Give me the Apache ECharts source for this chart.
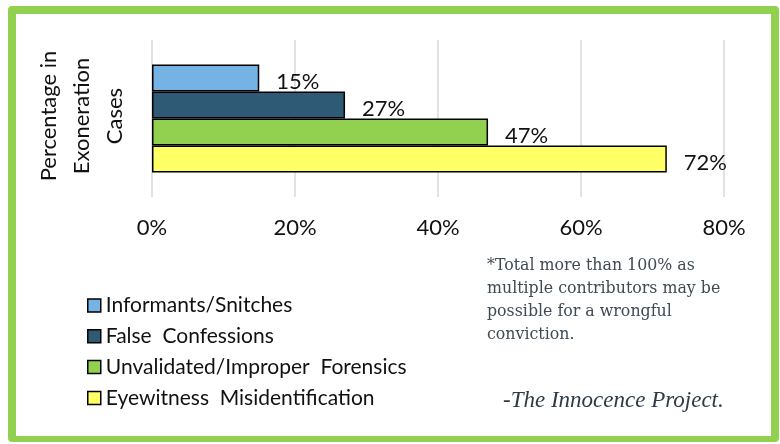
<!DOCTYPE html>
<html>
<head>
<meta charset="utf-8">
<script src="https://cdn.jsdelivr.net/npm/echarts@6/dist/echarts.min.js"></script>
<style>
html,body{margin:0;padding:0;background:#fff;}
#frame{position:absolute;left:8px;top:6px;width:755px;height:422px;border:8px solid #92d050;border-bottom-width:6px;border-radius:4px;background:#fff;}
#chart{position:absolute;left:0;top:0;width:780px;height:444px;}
</style>
</head>
<body>
<div id="frame"></div>
<div id="chart"></div>
<script>
const categories = ['Percentage in Exoneration Cases'];
const seriesNames = ['Informants/Snitches', 'False  Confessions', 'Unvalidated/Improper  Forensics', 'Eyewitness  Misidentification'];
const seriesValues = [[15], [27], [47], [72]];
const seriesColors = ['#74b3e3', '#2f5a75', '#92d050', '#ffff66'];
const tickValues = [0, 20, 40, 60, 80];
const footnoteLines = ['*Total more than 100% as', 'multiple contributors may be', 'possible for a wrongful', 'conviction.'];
const sourceText = '-The Innocence Project.';

const mainFont = 'Lato';
const chart = echarts.init(document.getElementById('chart'));
chart.setOption({
  backgroundColor: 'transparent',
  animation: false,
  grid: {left: 152, right: 56, top: 40, height: 157},
  xAxis: {
    type: 'value', min: tickValues[0], max: tickValues[tickValues.length - 1], interval: 20,
    axisLine: {show: false}, axisTick: {show: false},
    splitLine: {lineStyle: {color: '#d9d9d9', width: 1.5}},
    axisLabel: {formatter: '{value}%', color: '#111', fontSize: 22, fontFamily: mainFont, margin: 20}
  },
  yAxis: {
    type: 'category', data: categories, inverse: true,
    axisLine: {show: false}, axisTick: {show: false}, axisLabel: {show: false}
  },
  legend: {
    orient: 'vertical', left: 82, top: 290,
    data: seriesNames, icon: 'rect',
    itemWidth: 13, itemHeight: 13, itemGap: 9.8,
    itemStyle: {borderColor: '#000', borderWidth: 1.5},
    textStyle: {fontSize: 21, fontFamily: mainFont, color: '#111', lineHeight: 20}
  },
  series: seriesNames.map((n, i) => ({
    name: n, type: 'bar', data: seriesValues[i],
    barWidth: 27, barGap: '0%',
    itemStyle: {color: seriesColors[i], borderColor: '#000', borderWidth: 1.5},
    label: {show: true, position: 'right', distance: 17, formatter: '{c}%', fontSize: 22, fontFamily: mainFont, color: '#111', offset: [0, 4]}
  })),
  graphic: [
    {type: 'text', x: 82, y: 116, rotation: Math.PI / 2,
     style: {text: 'Percentage in\nExoneration\nCases', font: '22px ' + mainFont, fill: '#111', align: 'center', verticalAlign: 'middle', lineHeight: 33}},
    {type: 'text', left: 487, top: 254,
     style: {text: footnoteLines.join('\n'), font: '15.8px "DejaVu Serif"', fill: '#3f4a54', lineHeight: 23}},
    {type: 'text', left: 503, top: 389,
     style: {text: sourceText, font: 'italic 23px "Liberation Serif"', fill: '#2e3a45'}}
  ]
});
</script>
</body>
</html>
